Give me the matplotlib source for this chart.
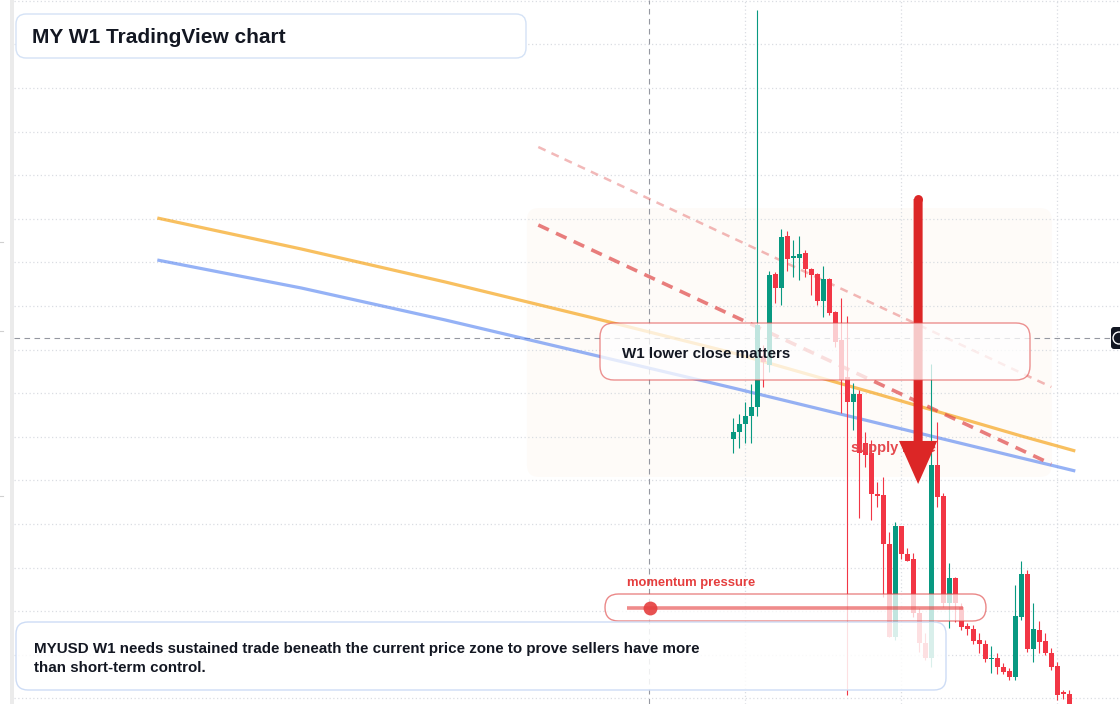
import numpy as np
import matplotlib
matplotlib.use('Agg')
import matplotlib.pyplot as plt
import matplotlib.transforms as mtransforms
from matplotlib.colors import to_rgba
from matplotlib.patches import FancyBboxPatch, FancyArrowPatch, Rectangle, Circle

plt.rcParams['font.family'] = ['Liberation Sans', 'DejaVu Sans']

# weekly candles, bar 0 = first visible bar (prices in chart points)
opens = [265, 272, 280, 288, 297, 348, 339, 430, 416, 468,
         446, 446, 451, 435, 430, 403, 425, 392, 364, 327,
         302, 310, 261, 251, 210, 209, 160, 67, 178, 150,
         145, 91, 61, 46, 239, 208, 101, 126, 97, 78,
         75, 64, 60, 45, 46, 37, 33, 27, 87, 130,
         55, 74, 63, 51, 38, 12, 10]
highs = [286, 290, 302, 320, 694, 359, 433, 432, 475, 473,
         464, 468, 454, 436, 431, 438, 426, 393, 406, 388,
         321, 314, 272, 264, 222, 227, 172, 182, 178, 156,
         151, 96, 71, 340, 282, 211, 141, 127, 101, 81,
         79, 71, 64, 58, 51, 41, 36, 119, 143, 134,
         101, 83, 71, 56, 42, 14, 14]
lows = [251, 256, 261, 261, 288, 317, 332, 401, 399, 433,
        427, 424, 427, 409, 399, 387, 389, 357, 291, 9,
        274, 186, 237, 184, 197, 107, 67, 64, 145, 143,
        87, 52, 44, 37, 197, 97, 76, 82, 74, 69,
        60, 51, 42, 31, 30, 30, 24, 24, 84, 52,
        42, 51, 49, 34, 4, 5, -8]
closes = [272, 280, 288, 297, 379, 342, 429, 416, 467, 445,
          448, 450, 435, 429, 403, 425, 391, 362, 324, 302,
          310, 251, 249, 210, 208, 160, 67, 178, 150, 143,
          91, 61, 46, 239, 207, 101, 126, 101, 77, 75,
          63, 60, 45, 46, 37, 32, 27, 88, 130, 55,
          75, 62, 51, 37, 9, 10, -6]

# moving averages sampled at bar positions
ma_bars = [-96, -72, -48, -24, 0, 24, 48, 57]
ma_fast = [486, 455, 422, 387, 351, 310, 268, 253]
ma_slow = [444, 416, 384, 350, 316, 281, 246, 233]

# drawn trendlines
trend_bars = [-32.5, 53]
trend_main = [479, 240]
trend_upper = [557, 317]

# supply zone, arrow, crosshair, time grid
zone_bars = [-34.4, 53.1]
zone_prices = [227, 496]
arrow_bar = 30.8
arrow_prices = [505, 220]
cross_bar = -14
cross_price = 366
time_grid_bars = [2, 28, 54]

GREEN = '#089981'
RED = '#f23645'
INK = '#131722'

fig = plt.figure(figsize=(11.2, 7.04), dpi=100)
ax = fig.add_axes([0, 0, 1, 1])
ax.set_xlim(-122.22, 64.45)
ax.set_ylim(0, 704)
ax.axis('off')

# pixel space (origin top-left) for the panel furniture
px = mtransforms.Affine2D().scale(1 / 1120, -1 / 704).translate(0, 1) + fig.transFigure


def px_box(x0, y0, x1, y1, r, fc, ec, lw=1.0, z=7):
    p = FancyBboxPatch((x0, y0), x1 - x0, y1 - y0,
                       boxstyle=f'round,pad=0,rounding_size={r}',
                       transform=px, facecolor=fc, edgecolor=ec, lw=lw, zorder=z)
    ax.add_patch(p)
    return p


# left strip and tiny ticks
ax.add_patch(Rectangle((10, 0), 4, 704, transform=px, color='#ebebeb', lw=0, zorder=1))
for ty in [242, 331, 496]:
    ax.plot([0, 3], [ty, ty], transform=px, color='#d0d0d0', lw=0.8, zorder=1)

# supply zone background
zone = FancyBboxPatch((zone_bars[0], zone_prices[0]), zone_bars[1] - zone_bars[0],
                      zone_prices[1] - zone_prices[0],
                      boxstyle='round,pad=0,rounding_size=2', mutation_aspect=6,
                      facecolor=to_rgba('#f5a35c', 0.04), edgecolor='none', zorder=1)
ax.add_patch(zone)

# grid
for k in range(17):
    ax.axhline(704 - 0.8 - 43.6 * k, xmin=14 / 1120, color='#dadde2', lw=0.9,
               ls=(0, (1, 2)), zorder=1.5)
for b in time_grid_bars:
    ax.axvline(b, color='#dadde2', lw=0.9, ls=(0, (1, 2)), zorder=1.5)

# crosshair
ax.axvline(cross_bar, color='#9598a1', lw=0.8, ls=(0, (5, 4)), zorder=2)
ax.axhline(cross_price, xmin=14 / 1120, color='#9598a1', lw=0.8, ls=(0, (5, 4)), zorder=2)

# moving averages
ax.plot(ma_bars, ma_fast, color='#f59e0b', alpha=0.65, lw=2.3, zorder=3,
        solid_capstyle='butt')
ax.plot(ma_bars, ma_slow, color='#4f7ff0', alpha=0.6, lw=2.3, zorder=3,
        solid_capstyle='butt')

# trendlines
ax.plot(trend_bars, trend_upper, color='#e05050', alpha=0.4, lw=1.8,
        ls=(0, (3.2, 2.6)), zorder=3.5)
ax.plot(trend_bars, trend_main, color='#e04848', alpha=0.7, lw=2.6,
        ls=(0, (3.2, 2.2)), zorder=3.5)

# candles
for i in range(len(opens)):
    o, h, l, c = opens[i], highs[i], lows[i], closes[i]
    col = GREEN if c >= o else RED
    ax.vlines(i, l, h, color=col, lw=0.8, zorder=4)
    body = max(abs(c - o), 1.5)
    ax.bar(i, body, bottom=min(o, c), width=0.75, color=col, lw=0, zorder=4.1)

# supply zone label (under the arrow)
ax.text(19.6, 256, 'supply zone', color='#e5484d', fontsize=10.5,
        fontweight='bold', va='center', ha='left', zorder=5)

# big arrow
arrow = FancyArrowPatch((arrow_bar, arrow_prices[0]), (arrow_bar, arrow_prices[1]),
                        arrowstyle='simple,head_length=31,head_width=27.5,tail_width=6.5',
                        mutation_scale=1, shrinkA=0, shrinkB=0,
                        facecolor='#dc2626', edgecolor='none', lw=0, zorder=6)
ax.add_patch(arrow)
ax.plot([arrow_bar], [arrow_prices[0]], marker='o', ms=6.4, color='#dc2626',
        mec='none', zorder=6)

# title box
px_box(16, 14, 526, 58, 10, 'white', '#d4e2f6', lw=1.0, z=7)
ax.text(32, 37.5, 'MY W1 TradingView chart', transform=px, fontsize=15,
        fontweight='bold', color=INK, va='center', ha='left', zorder=8)

# note box in the middle
px_box(600, 323, 1030, 380, 14, to_rgba('white', 0.75), to_rgba('#e04848', 0.6),
       lw=1.0, z=7)
ax.text(622, 354.5, 'W1 lower close matters', transform=px, fontsize=10.9,
        fontweight='bold', color=INK, va='center', ha='left', zorder=8)

# momentum pressure pill
ax.text(627, 583, 'momentum pressure', transform=px, fontsize=9.4,
        fontweight='bold', color='#e53e3e', va='center', ha='left', zorder=8)
px_box(605, 594, 986, 621, 13.5, to_rgba('white', 0.75), to_rgba('#e04848', 0.65),
       lw=1.0, z=7)
ax.plot([627, 963], [607.5, 607.5], transform=px, color='#e53e3e', alpha=0.6,
        lw=2.6, zorder=8, solid_capstyle='butt')
ax.plot([650], [607.5], transform=px, marker='o', ms=10, color='#e53e3e',
        alpha=0.9, mec='none', zorder=8.5)

# bottom commentary box
px_box(16, 622, 946, 690, 12, to_rgba('white', 0.85), '#cddcf5', lw=1.0, z=7)
ax.text(34, 648.5, 'MYUSD W1 needs sustained trade beneath the current price zone to prove sellers have more',
        transform=px, fontsize=10.9, fontweight='bold', color=INK, va='center',
        ha='left', zorder=8)
ax.text(34, 668.5, 'than short-term control.', transform=px, fontsize=10.9,
        fontweight='bold', color=INK, va='center', ha='left', zorder=8)

# price label stub on the right edge
px_box(1111, 327, 1130, 349, 3, INK, 'none', lw=0, z=9)
ax.add_patch(Circle((1119, 338), 6, transform=px, facecolor='none',
                    edgecolor='white', lw=1.0, zorder=10))

fig.savefig('out.png', dpi=100)
